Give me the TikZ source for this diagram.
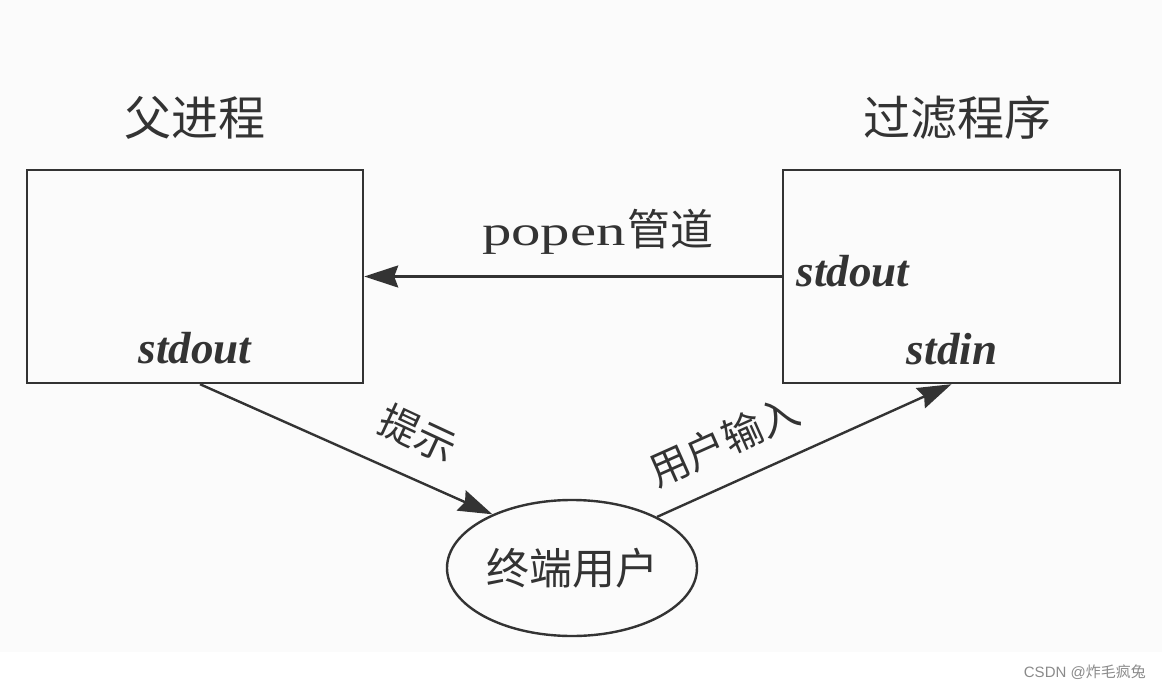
\documentclass[tikz,border=0pt]{standalone}
\usepackage{fontspec}
\usepackage{graphicx}
\newfontfamily\cjk{Noto Sans CJK SC}
\newfontfamily\serifbi{Liberation Serif}[UprightFont=*, BoldItalicFont=* Bold Italic]
\newfontfamily\wmfont{Liberation Sans}
\usetikzlibrary{arrows.meta,shapes.geometric}
\definecolor{ink}{HTML}{333333}
\definecolor{bgpic}{HTML}{FBFBFB}
\definecolor{wm}{HTML}{8A8A8A}
\tikzset{
  procbox/.style={draw=ink, line width=2.4pt, minimum width=336pt, minimum height=213pt, inner sep=0pt},
  title/.style={text=ink, font=\cjk\fontsize{47}{51}\selectfont, inner sep=0pt},
  lbl/.style={text=ink, font=\cjk\fontsize{40}{44}\selectfont, inner sep=0pt},
  stdlbl/.style={text=ink, font=\serifbi\bfseries\itshape\fontsize{45}{49}\selectfont, inner sep=0pt},
  conn/.style={draw=ink, line width=2.4pt, -{Stealth[length=34pt,width=22pt,inset=4pt]}},
}
\begin{document}
\begin{tikzpicture}[x=1pt,y=-1pt]
\useasboundingbox (0,0) rectangle (1162,690);
\fill[bgpic] (0,0) rectangle (1162,652);
% boxes
\node[procbox] (pp) at (195,276.5) {};
\node[procbox, minimum width=337pt] (flt) at (951.5,276.5) {};
\node[draw=ink, line width=2.4pt, ellipse, minimum width=250pt, minimum height=136pt, inner sep=0pt] (user) at (572,568) {};
% titles
\node[title] (t1) at (195,118) {父进程};
\node[title] (t2) at (957,118) {过滤程序};
% inner labels
\node[stdlbl] (so1) at (195,348) {stdout};
\node[stdlbl] (so2) at (853,271) {stdout};
\node[stdlbl] (si2) at (952,349) {stdin};
\node[lbl, font=\cjk\fontsize{43}{47}\selectfont] (ulbl) at (572,568) {终端用户};
% connectors
\coordinate (ps) at ([xshift=5pt]pp.south);
\draw[conn] (flt.west) -- (pp.east);
\draw[conn] (ps) -- (user.146);
\draw[conn] (user.31) -- (flt.south);
% connector labels
\node[text=ink, inner sep=0pt] (plbl) at (598,232) {{\serifbi\scalebox{1.4}[1]{\fontsize{42}{46}\selectfont popen}}\hspace{2pt}{\cjk\fontsize{43}{47}\selectfont 管道}};
\node[lbl, rotate=-25] (hint) at (418,434) {提示};
\node[lbl, rotate=24] (uin) at (724,441) {用户输入};
% watermark
\node[text=wm, inner sep=0pt, anchor=east] (wmk) at (1146,672) {\wmfont\fontsize{15}{18}\selectfont CSDN @{\cjk 炸毛疯兔}};
\end{tikzpicture}
\end{document}
